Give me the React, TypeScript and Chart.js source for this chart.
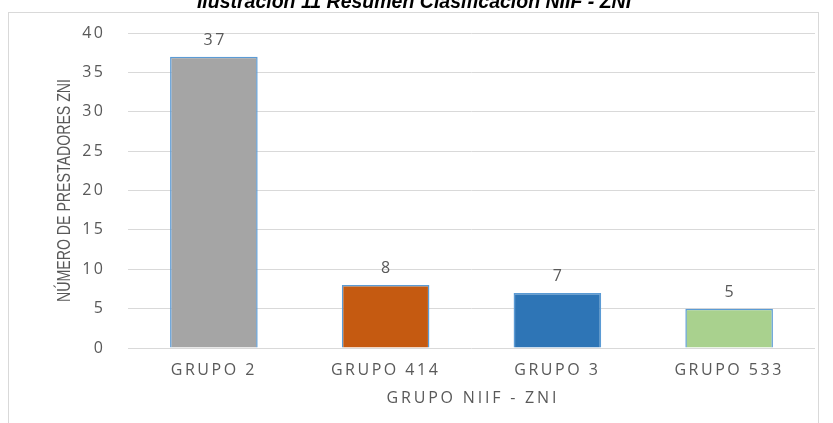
import React, { useEffect, useRef } from 'react';
import { Chart, registerables } from 'chart.js';

Chart.register(...registerables);

const categories = ['GRUPO 2', 'GRUPO 414', 'GRUPO 3', 'GRUPO 533'];
const values = [37, 8, 7, 5];
const barColors = ['#A5A5A5', '#C55A11', '#2E75B6', '#A9D18E'];
const chartTitle = 'Ilustración 11 Resumen Clasificación NIIF - ZNI';
const xTitle = 'GRUPO NIIF - ZNI';
const yTitle = 'NÚMERO DE PRESTADORES ZNI';
const yMin = 0;
const yMax = 40;
const yStep = 5;

const TEXT = '#595959';
const LS = 2.5;
const BODY_FONT = '"Open Sans", "DejaVu Sans", sans-serif';

export default function App() {
  const ref = useRef<HTMLCanvasElement>(null);

  useEffect(() => {
    const canvas = ref.current;
    if (!canvas) return;

    const decor = {
      id: 'decor',
      beforeDraw(chart: any) {
        const ctx = chart.ctx;
        ctx.save();
        ctx.letterSpacing = '0px';
        ctx.strokeStyle = '#D9D9D9';
        ctx.lineWidth = 1;
        ctx.strokeRect(8.5, 12.5, 810, 430);
        ctx.fillStyle = '#000000';
        ctx.font = 'italic bold 19.5px "Liberation Sans", Arial, sans-serif';
        ctx.textAlign = 'center';
        ctx.textBaseline = 'alphabetic';
        ctx.fillText(chartTitle, 414, 7.5);
        ctx.restore();
        ctx.letterSpacing = LS + 'px';
      },
      afterDatasetsDraw(chart: any) {
        const ctx = chart.ctx;
        const meta = chart.getDatasetMeta(0);
        ctx.save();
        ctx.letterSpacing = LS + 'px';
        ctx.fillStyle = TEXT;
        ctx.font = '16px ' + BODY_FONT;
        ctx.textAlign = 'center';
        ctx.textBaseline = 'middle';
        meta.data.forEach((el: any, i: number) => {
          ctx.fillText(String(values[i]), el.x + LS / 2, el.y - 16.5);
        });
        ctx.restore();
      },
      afterDraw(chart: any) {
        const ctx = chart.ctx;
        const area = chart.chartArea;
        // x-axis title
        ctx.save();
        ctx.letterSpacing = '2.8px';
        ctx.fillStyle = TEXT;
        ctx.font = '16px ' + BODY_FONT;
        ctx.textAlign = 'center';
        ctx.textBaseline = 'middle';
        ctx.fillText(xTitle, (area.left + area.right) / 2 + 1.4, 398);
        ctx.restore();
        // y-axis title (condensed)
        ctx.save();
        ctx.letterSpacing = '0px';
        ctx.fillStyle = TEXT;
        ctx.font = '19px "Liberation Sans", Arial, sans-serif';
        ctx.textAlign = 'center';
        ctx.textBaseline = 'middle';
        ctx.translate(65, (area.top + area.bottom) / 2);
        ctx.rotate(-Math.PI / 2);
        const w = ctx.measureText(yTitle).width;
        ctx.scale(223 / w, 1);
        ctx.fillText(yTitle, 0, 0);
        ctx.restore();
      },
    };

    const chart = new Chart(canvas, {
      type: 'bar',
      data: {
        labels: categories,
        datasets: [
          {
            data: values,
            backgroundColor: barColors,
            borderColor: '#5B9BD5',
            borderWidth: 1.5,
            barPercentage: 0.51,
            categoryPercentage: 1,
          },
        ],
      },
      options: {
        animation: false,
        responsive: false,
        devicePixelRatio: 1,
        layout: { padding: { left: 0, right: 18, top: 33, bottom: 0 } },
        plugins: {
          legend: { display: false },
          tooltip: { enabled: false },
          title: { display: false },
        },
        scales: {
          x: {
            grid: { display: false, drawTicks: false },
            border: { display: false },
            ticks: {
              color: TEXT,
              font: { family: BODY_FONT, size: 16 },
              padding: 13,
              maxRotation: 0,
              minRotation: 0,
            },
            title: { display: false, text: xTitle },
            afterFit(scale: any) {
              scale.height = 75;
            },
          },
          y: {
            min: yMin,
            max: yMax,
            grid: { color: '#D9D9D9', lineWidth: 1, drawTicks: false },
            border: { display: false },
            ticks: {
              stepSize: yStep,
              color: TEXT,
              font: { family: BODY_FONT, size: 16 },
              padding: 22.5,
            },
            title: { display: false, text: yTitle },
            afterFit(scale: any) {
              scale.width = 128;
            },
          },
        },
      },
      plugins: [decor],
    } as any);

    return () => chart.destroy();
  }, []);

  return (
    <div style={{ position: 'absolute', left: 0, top: 0, width: 833, height: 423, overflow: 'hidden', background: '#ffffff' }}>
      <canvas ref={ref} width={833} height={423} style={{ display: 'block', width: 833, height: 423 }} />
    </div>
  );
}
